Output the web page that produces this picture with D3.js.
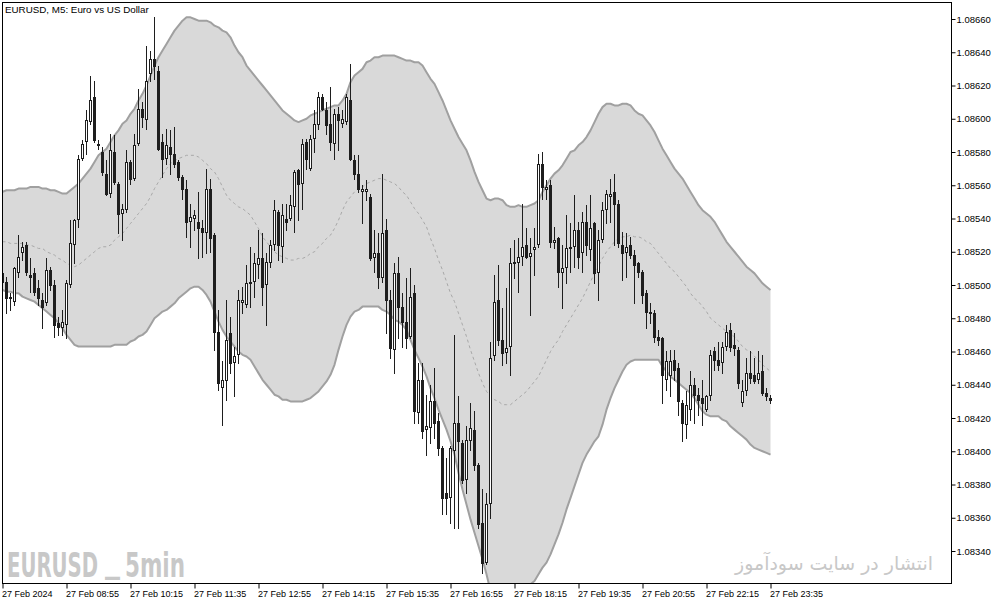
<!DOCTYPE html>
<html><head><meta charset="utf-8">
<script src="https://cdn.jsdelivr.net/npm/d3@7"></script>
<style>
html,body{margin:0;padding:0;background:#fff;}
svg{display:block;}
</style></head><body>
<svg id="chart" width="1003" height="605"></svg>
<script>
const chartTitle = "EURUSD, M5:  Euro vs US Dollar";
const watermarkLeft = ["EURUSD", "_", "5min"];
const watermarkRight = "انتشار در سایت سودآموز";
const timeLabels = ["27 Feb 2024","27 Feb 08:55","27 Feb 10:15","27 Feb 11:35","27 Feb 12:55","27 Feb 14:15","27 Feb 15:35","27 Feb 16:55","27 Feb 18:15","27 Feb 19:35","27 Feb 20:55","27 Feb 22:15","27 Feb 23:35"];
const timeLabelBars = [0,16,32,48,64,80,96,112,128,144,160,176,192];
const priceTicks = [1.0834,1.0836,1.0838,1.0840,1.0842,1.0844,1.0846,1.0848,1.0850,1.0852,1.0854,1.0856,1.0858,1.0860,1.0862,1.0864,1.0866];

const open = [1.08507,1.08502,1.08492,1.08490,1.08507,1.08519,1.08524,1.08506,1.08507,1.08498,
1.08491,1.08489,1.08509,1.08500,1.08477,1.08474,1.08476,1.08500,1.08524,1.08539,
1.08576,1.08586,1.08598,1.08613,1.08585,1.08580,1.08567,1.08555,1.08580,1.08561,
1.08543,1.08545,1.08574,1.08564,1.08585,1.08606,1.08599,1.08627,1.08636,1.08629,
1.08586,1.08576,1.08583,1.08579,1.08574,1.08565,1.08558,1.08538,1.08540,1.08538,
1.08534,1.08531,1.08558,1.08530,1.08472,1.08438,1.08442,1.08471,1.08453,1.08458,
1.08489,1.08488,1.08501,1.08502,1.08512,1.08516,1.08500,1.08513,1.08524,1.08544,
1.08523,1.08540,1.08540,1.08547,1.08569,1.08561,1.08586,1.08570,1.08588,1.08596,
1.08613,1.08605,1.08597,1.08585,1.08603,1.08597,1.08598,1.08611,1.08575,1.08567,
1.08556,1.08556,1.08553,1.08516,1.08519,1.08504,1.08533,1.08491,1.08461,1.08507,
1.08487,1.08478,1.08469,1.08495,1.08423,1.08443,1.08413,1.08414,1.08430,1.08418,
1.08402,1.08375,1.08372,1.08400,1.08417,1.08405,1.08383,1.08406,1.08413,1.08392,
1.08357,1.08333,1.08368,1.08457,1.08491,1.08467,1.08459,1.08463,1.08513,1.08513,
1.08517,1.08524,1.08517,1.08521,1.08524,1.08573,1.08557,1.08560,1.08525,1.08528,
1.08507,1.08510,1.08522,1.08523,1.08533,1.08519,1.08538,1.08521,1.08537,1.08507,
1.08527,1.08545,1.08553,1.08556,1.08549,1.08524,1.08519,1.08524,1.08518,1.08513,
1.08508,1.08495,1.08484,1.08483,1.08469,1.08468,1.08443,1.08445,1.08455,1.08450,
1.08429,1.08416,1.08425,1.08440,1.08434,1.08432,1.08425,1.08433,1.08460,1.08455,
1.08453,1.08463,1.08473,1.08464,1.08461,1.08429,1.08436,1.08447,1.08446,1.08443,
1.08448,1.08435,1.08432];

const high = [1.08509,1.08505,1.08495,1.08511,1.08530,1.08526,1.08526,1.08516,1.08510,1.08503,
1.08495,1.08516,1.08511,1.08503,1.08481,1.08485,1.08503,1.08539,1.08540,1.08578,
1.08587,1.08605,1.08626,1.08623,1.08587,1.08583,1.08575,1.08591,1.08590,1.08562,
1.08549,1.08581,1.08575,1.08591,1.08618,1.08610,1.08644,1.08641,1.08661,1.08632,
1.08591,1.08594,1.08593,1.08595,1.08575,1.08566,1.08563,1.08549,1.08545,1.08556,
1.08539,1.08570,1.08564,1.08531,1.08485,1.08454,1.08491,1.08481,1.08463,1.08497,
1.08499,1.08512,1.08523,1.08519,1.08533,1.08531,1.08519,1.08527,1.08551,1.08545,
1.08549,1.08549,1.08554,1.08569,1.08570,1.08588,1.08588,1.08590,1.08605,1.08616,
1.08615,1.08610,1.08619,1.08606,1.08607,1.08605,1.08615,1.08633,1.08578,1.08578,
1.08560,1.08563,1.08555,1.08533,1.08531,1.08567,1.08540,1.08497,1.08513,1.08517,
1.08495,1.08504,1.08510,1.08500,1.08453,1.08453,1.08434,1.08440,1.08450,1.08423,
1.08403,1.08396,1.08403,1.08470,1.08433,1.08407,1.08415,1.08429,1.08424,1.08393,
1.08377,1.08375,1.08466,1.08506,1.08512,1.08486,1.08498,1.08522,1.08527,1.08528,
1.08549,1.08534,1.08528,1.08534,1.08579,1.08580,1.08563,1.08563,1.08535,1.08529,
1.08524,1.08542,1.08537,1.08554,1.08538,1.08544,1.08548,1.08554,1.08538,1.08533,
1.08550,1.08557,1.08564,1.08567,1.08551,1.08532,1.08531,1.08529,1.08521,1.08514,
1.08509,1.08497,1.08489,1.08485,1.08473,1.08469,1.08460,1.08461,1.08461,1.08453,
1.08431,1.08436,1.08448,1.08444,1.08438,1.08443,1.08434,1.08461,1.08463,1.08466,
1.08466,1.08476,1.08477,1.08471,1.08463,1.08443,1.08456,1.08460,1.08456,1.08460,
1.08458,1.08438,1.08434];

const low = [1.08501,1.08483,1.08485,1.08488,1.08505,1.08515,1.08506,1.08496,1.08494,1.08488,
1.08474,1.08488,1.08497,1.08469,1.08470,1.08470,1.08468,1.08499,1.08513,1.08535,
1.08575,1.08579,1.08597,1.08586,1.08582,1.08566,1.08554,1.08553,1.08561,1.08531,
1.08527,1.08544,1.08561,1.08563,1.08584,1.08595,1.08594,1.08623,1.08624,1.08581,
1.08565,1.08573,1.08567,1.08571,1.08563,1.08552,1.08529,1.08523,1.08533,1.08516,
1.08517,1.08519,1.08520,1.08461,1.08437,1.08416,1.08431,1.08447,1.08433,1.08453,
1.08483,1.08487,1.08487,1.08493,1.08504,1.08488,1.08476,1.08511,1.08521,1.08515,
1.08514,1.08533,1.08539,1.08532,1.08539,1.08546,1.08570,1.08569,1.08580,1.08594,
1.08605,1.08591,1.08581,1.08576,1.08581,1.08595,1.08597,1.08575,1.08564,1.08556,
1.08537,1.08551,1.08515,1.08508,1.08498,1.08502,1.08471,1.08456,1.08447,1.08468,
1.08463,1.08462,1.08468,1.08417,1.08417,1.08408,1.08398,1.08405,1.08408,1.08398,
1.08362,1.08362,1.08357,1.08354,1.08354,1.08381,1.08375,1.08401,1.08389,1.08354,
1.08327,1.08332,1.08360,1.08455,1.08464,1.08452,1.08453,1.08446,1.08504,1.08496,
1.08512,1.08516,1.08482,1.08506,1.08523,1.08552,1.08552,1.08523,1.08522,1.08499,
1.08486,1.08501,1.08508,1.08511,1.08510,1.08508,1.08518,1.08515,1.08501,1.08491,
1.08526,1.08537,1.08538,1.08524,1.08523,1.08503,1.08505,1.08516,1.08489,1.08505,
1.08489,1.08474,1.08477,1.08466,1.08464,1.08429,1.08437,1.08433,1.08443,1.08422,
1.08406,1.08408,1.08419,1.08417,1.08422,1.08416,1.08424,1.08431,1.08449,1.08449,
1.08447,1.08461,1.08460,1.08458,1.08438,1.08427,1.08434,1.08441,1.08441,1.08441,
1.08434,1.08431,1.08429];

const close = [1.08502,1.08492,1.08493,1.08510,1.08517,1.08523,1.08508,1.08505,1.08496,1.08492,
1.08487,1.08509,1.08500,1.08476,1.08475,1.08478,1.08501,1.08525,1.08539,1.08576,
1.08585,1.08599,1.08611,1.08587,1.08584,1.08568,1.08555,1.08581,1.08562,1.08543,
1.08546,1.08574,1.08564,1.08584,1.08606,1.08601,1.08623,1.08636,1.08632,1.08582,
1.08576,1.08584,1.08579,1.08573,1.08565,1.08558,1.08538,1.08541,1.08542,1.08534,
1.08532,1.08558,1.08528,1.08472,1.08441,1.08443,1.08467,1.08453,1.08457,1.08491,
1.08491,1.08501,1.08502,1.08513,1.08516,1.08499,1.08514,1.08524,1.08545,1.08524,
1.08542,1.08538,1.08548,1.08568,1.08561,1.08585,1.08576,1.08588,1.08597,1.08613,
1.08606,1.08596,1.08586,1.08603,1.08599,1.08600,1.08613,1.08576,1.08567,1.08558,
1.08558,1.08558,1.08516,1.08519,1.08505,1.08531,1.08491,1.08462,1.08507,1.08487,
1.08478,1.08468,1.08493,1.08424,1.08443,1.08412,1.08415,1.08430,1.08417,1.08402,
1.08372,1.08372,1.08402,1.08417,1.08406,1.08383,1.08407,1.08414,1.08392,1.08356,
1.08333,1.08368,1.08456,1.08490,1.08467,1.08459,1.08462,1.08513,1.08514,1.08517,
1.08523,1.08517,1.08519,1.08523,1.08573,1.08559,1.08559,1.08526,1.08527,1.08508,
1.08510,1.08522,1.08523,1.08533,1.08517,1.08538,1.08524,1.08534,1.08507,1.08527,
1.08545,1.08555,1.08555,1.08549,1.08525,1.08519,1.08523,1.08518,1.08512,1.08508,
1.08494,1.08484,1.08483,1.08469,1.08467,1.08446,1.08454,1.08454,1.08449,1.08430,
1.08417,1.08428,1.08440,1.08434,1.08431,1.08429,1.08433,1.08458,1.08455,1.08452,
1.08463,1.08472,1.08463,1.08462,1.08441,1.08436,1.08447,1.08444,1.08442,1.08447,
1.08435,1.08433,1.08431];

const bbUpper = [1.08556,1.08557,1.08557,1.08557,1.08558,1.08558,1.08558,1.08559,1.08559,1.08559,
1.08558,1.08558,1.08557,1.08557,1.08556,1.08555,1.08555,1.08557,1.08559,1.08561,
1.08564,1.08567,1.08570,1.08574,1.08578,1.08580,1.08582,1.08586,1.08590,1.08593,
1.08597,1.08599,1.08603,1.08606,1.08611,1.08615,1.08620,1.08626,1.08632,1.08637,
1.08641,1.08645,1.08649,1.08653,1.08656,1.08659,1.08661,1.08661,1.08660,1.08659,
1.08659,1.08659,1.08658,1.08656,1.08655,1.08653,1.08652,1.08649,1.08644,1.08640,
1.08637,1.08632,1.08629,1.08626,1.08623,1.08620,1.08617,1.08614,1.08611,1.08608,
1.08605,1.08603,1.08601,1.08599,1.08598,1.08599,1.08600,1.08602,1.08603,1.08604,
1.08605,1.08606,1.08607,1.08608,1.08608,1.08611,1.08615,1.08622,1.08626,1.08628,
1.08630,1.08634,1.08635,1.08637,1.08637,1.08638,1.08638,1.08638,1.08638,1.08637,
1.08636,1.08635,1.08635,1.08634,1.08634,1.08632,1.08628,1.08624,1.08621,1.08616,
1.08611,1.08605,1.08599,1.08594,1.08589,1.08585,1.08581,1.08575,1.08568,1.08562,
1.08557,1.08552,1.08551,1.08552,1.08552,1.08551,1.08548,1.08547,1.08547,1.08548,
1.08547,1.08547,1.08548,1.08549,1.08551,1.08556,1.08560,1.08564,1.08567,1.08569,
1.08572,1.08576,1.08580,1.08581,1.08584,1.08586,1.08589,1.08593,1.08598,1.08603,
1.08607,1.08609,1.08609,1.08608,1.08608,1.08609,1.08609,1.08608,1.08605,1.08603,
1.08602,1.08599,1.08596,1.08592,1.08587,1.08582,1.08578,1.08574,1.08570,1.08567,
1.08564,1.08560,1.08556,1.08552,1.08548,1.08545,1.08543,1.08541,1.08538,1.08534,
1.08530,1.08526,1.08523,1.08520,1.08517,1.08514,1.08511,1.08509,1.08507,1.08504,
1.08501,1.08499,1.08497];

const bbMiddle = [1.08526,1.08526,1.08525,1.08525,1.08525,1.08525,1.08524,1.08524,1.08523,1.08522,
1.08522,1.08520,1.08519,1.08518,1.08516,1.08515,1.08513,1.08512,1.08511,1.08512,
1.08514,1.08516,1.08518,1.08520,1.08522,1.08523,1.08523,1.08524,1.08527,1.08529,
1.08531,1.08534,1.08537,1.08540,1.08543,1.08546,1.08549,1.08553,1.08558,1.08562,
1.08566,1.08570,1.08573,1.08575,1.08576,1.08577,1.08578,1.08578,1.08578,1.08577,
1.08575,1.08573,1.08570,1.08568,1.08564,1.08559,1.08554,1.08551,1.08549,1.08547,
1.08546,1.08544,1.08542,1.08538,1.08534,1.08529,1.08526,1.08523,1.08520,1.08518,
1.08517,1.08516,1.08515,1.08515,1.08516,1.08516,1.08517,1.08519,1.08520,1.08523,
1.08525,1.08528,1.08530,1.08534,1.08539,1.08545,1.08550,1.08553,1.08556,1.08558,
1.08559,1.08561,1.08562,1.08563,1.08564,1.08564,1.08563,1.08562,1.08561,1.08559,
1.08556,1.08554,1.08550,1.08546,1.08543,1.08539,1.08535,1.08528,1.08522,1.08515,
1.08509,1.08502,1.08495,1.08490,1.08483,1.08476,1.08469,1.08461,1.08454,1.08447,
1.08441,1.08436,1.08433,1.08431,1.08430,1.08428,1.08428,1.08428,1.08430,1.08432,
1.08434,1.08436,1.08439,1.08442,1.08445,1.08450,1.08455,1.08460,1.08464,1.08467,
1.08472,1.08476,1.08480,1.08484,1.08488,1.08492,1.08497,1.08502,1.08507,1.08511,
1.08516,1.08520,1.08523,1.08526,1.08528,1.08529,1.08529,1.08530,1.08529,1.08529,
1.08528,1.08526,1.08525,1.08522,1.08519,1.08516,1.08513,1.08510,1.08508,1.08505,
1.08502,1.08499,1.08495,1.08492,1.08490,1.08487,1.08484,1.08480,1.08478,1.08476,
1.08474,1.08472,1.08470,1.08469,1.08466,1.08463,1.08461,1.08460,1.08457,1.08455,
1.08452,1.08450,1.08448];

const bbLower = [1.08497,1.08496,1.08496,1.08495,1.08495,1.08493,1.08492,1.08491,1.08490,1.08488,
1.08486,1.08484,1.08482,1.08480,1.08477,1.08474,1.08470,1.08467,1.08464,1.08463,
1.08463,1.08463,1.08463,1.08463,1.08463,1.08463,1.08463,1.08463,1.08464,1.08464,
1.08464,1.08464,1.08466,1.08467,1.08469,1.08470,1.08472,1.08476,1.08480,1.08482,
1.08484,1.08485,1.08487,1.08489,1.08492,1.08494,1.08496,1.08498,1.08499,1.08499,
1.08497,1.08494,1.08490,1.08484,1.08478,1.08473,1.08469,1.08466,1.08463,1.08460,
1.08458,1.08457,1.08455,1.08451,1.08447,1.08443,1.08440,1.08437,1.08434,1.08433,
1.08431,1.08431,1.08430,1.08430,1.08430,1.08430,1.08431,1.08432,1.08434,1.08436,
1.08439,1.08442,1.08446,1.08452,1.08461,1.08469,1.08476,1.08481,1.08484,1.08485,
1.08487,1.08487,1.08487,1.08487,1.08487,1.08485,1.08484,1.08482,1.08479,1.08478,
1.08476,1.08473,1.08467,1.08461,1.08456,1.08451,1.08445,1.08438,1.08432,1.08425,
1.08419,1.08413,1.08406,1.08398,1.08387,1.08377,1.08368,1.08359,1.08351,1.08343,
1.08335,1.08326,1.08316,1.08310,1.08306,1.08303,1.08302,1.08303,1.08305,1.08309,
1.08312,1.08316,1.08320,1.08322,1.08326,1.08330,1.08333,1.08338,1.08344,1.08350,
1.08357,1.08365,1.08372,1.08379,1.08386,1.08393,1.08398,1.08402,1.08406,1.08409,
1.08416,1.08425,1.08432,1.08438,1.08443,1.08448,1.08452,1.08454,1.08455,1.08455,
1.08455,1.08455,1.08455,1.08455,1.08455,1.08451,1.08448,1.08445,1.08443,1.08441,
1.08439,1.08437,1.08435,1.08432,1.08428,1.08424,1.08422,1.08421,1.08421,1.08421,
1.08419,1.08418,1.08415,1.08413,1.08411,1.08409,1.08407,1.08404,1.08402,1.08401,
1.08400,1.08399,1.08398];

// ---------- layout ----------
const W = 1003, H = 605;
const plotL = 2, plotT = 2, plotR = 951, plotB = 583;
const barStep = 4;
const n = open.length;
const svg = d3.select("#chart");
const FONT = "'Liberation Sans', Arial, sans-serif";

const x = d3.scaleLinear().domain([0, n - 1]).range([2.5, 2.5 + barStep * (n - 1)]);
const y = d3.scaleLinear().domain([1.0834, 1.0866]).range([551, 19]);

svg.append("rect").attr("width", W).attr("height", H).attr("fill", "#fff");

svg.append("defs").append("clipPath").attr("id", "plotClip")
  .append("rect").attr("x", plotL + 1).attr("y", plotT + 1)
  .attr("width", plotR - plotL - 1).attr("height", plotB - plotT - 1);

const g = svg.append("g").attr("clip-path", "url(#plotClip)");

// Bollinger band fill
const idx = d3.range(n);
g.append("path").datum(idx)
  .attr("d", d3.area().x(i => x(i)).y0(i => y(bbLower[i])).y1(i => y(bbUpper[i])))
  .attr("fill", "#d9d9d9");

// middle line
g.append("path").datum(idx)
  .attr("d", d3.line().x(i => x(i)).y(i => y(bbMiddle[i])))
  .attr("fill", "none").attr("stroke", "#a8a8a8").attr("stroke-width", 1)
  .attr("stroke-dasharray", "3,3");

// band edges
[bbUpper, bbLower].forEach(arr => {
  g.append("path").datum(idx)
    .attr("d", d3.line().x(i => x(i)).y(i => y(arr[i])))
    .attr("fill", "none").attr("stroke", "#a0a0a0").attr("stroke-width", 2)
    .attr("stroke-linejoin", "round");
});

// candles
const candleColor = "#1e1e1e";
const cg = g.append("g");
idx.forEach(i => {
  const cx = Math.floor(x(i));
  const yh = Math.round(y(high[i])), yl = Math.round(y(low[i]));
  cg.append("rect").attr("x", cx).attr("y", yh).attr("width", 1)
    .attr("height", Math.max(1, yl - yh + 1)).attr("fill", candleColor);
  const top = Math.round(y(Math.max(open[i], close[i])));
  const bot = Math.round(y(Math.min(open[i], close[i])));
  if (close[i] >= open[i]) {
    if (bot - top >= 2) {
      cg.append("rect").attr("x", cx - 0.5).attr("y", top + 0.5)
        .attr("width", 2).attr("height", bot - top - 1)
        .attr("fill", "#fff").attr("stroke", candleColor).attr("stroke-width", 1);
    } else {
      cg.append("rect").attr("x", cx - 1).attr("y", top).attr("width", 3)
        .attr("height", Math.max(1, bot - top + 1)).attr("fill", candleColor);
    }
  } else {
    cg.append("rect").attr("x", cx - 1).attr("y", top).attr("width", 3)
      .attr("height", Math.max(1, bot - top + 1)).attr("fill", candleColor);
  }
});

// plot border
svg.append("rect").attr("x", plotL + 0.5).attr("y", plotT + 0.5)
  .attr("width", plotR - plotL).attr("height", plotB - plotT)
  .attr("fill", "none").attr("stroke", "#000").attr("stroke-width", 1);

// price axis
const yAxis = d3.axisRight(y).tickValues(priceTicks).tickFormat(d3.format(".5f"))
  .tickSize(4).tickPadding(1);
svg.append("g").attr("transform", `translate(${plotR + 0.5},0)`).call(yAxis)
  .call(a => a.select(".domain").remove())
  .call(a => a.selectAll("line").attr("stroke", "#000"))
  .call(a => a.selectAll("text").attr("fill", "#000").attr("font-family", FONT).attr("font-size", 9.5));

// time axis
const xAxis = d3.axisBottom(x).tickValues(timeLabelBars)
  .tickFormat((d, k) => timeLabels[k]).tickSize(5).tickPadding(2);
svg.append("g").attr("transform", `translate(0,${plotB + 0.5})`).call(xAxis)
  .call(a => a.select(".domain").remove())
  .call(a => a.selectAll("line").attr("stroke", "#000"))
  .call(a => a.selectAll("text").attr("fill", "#000").attr("font-family", FONT)
    .attr("font-size", 9).attr("text-anchor", "start").attr("dx", -1));

// title
svg.append("text").attr("x", 5).attr("y", 13).text(chartTitle)
  .attr("font-family", FONT).attr("font-size", 9.8).attr("fill", "#000");

// watermark (left): three words side by side, stretched vertically
const wmParts = [
  {t: watermarkLeft[0], x: 7, w: 91, y: 577},
  {t: watermarkLeft[1], x: 105, w: 15, y: 572},
  {t: watermarkLeft[2], x: 125, w: 60, y: 577}
];
wmParts.forEach(p => {
  svg.append("text").attr("transform", `translate(${p.x},${p.y}) scale(1,1.65)`).text(p.t)
    .attr("font-family", "'DejaVu Sans', sans-serif").attr("font-weight", "bold")
    .attr("font-size", 20).attr("fill", "#c8c8c8")
    .attr("textLength", p.w).attr("lengthAdjust", "spacingAndGlyphs");
});

const wr = svg.append("text").attr("x", 834).attr("y", 570).text(watermarkRight)
  .attr("font-family", "'DejaVu Sans', 'Noto Sans', sans-serif")
  .attr("font-size", 20).attr("fill", "#c8c8c8").attr("text-anchor", "middle");
const wrw = wr.node().getComputedTextLength();
if (wrw > 0) wr.attr("font-size", 20 * 198 / wrw);
</script>
</body></html>
